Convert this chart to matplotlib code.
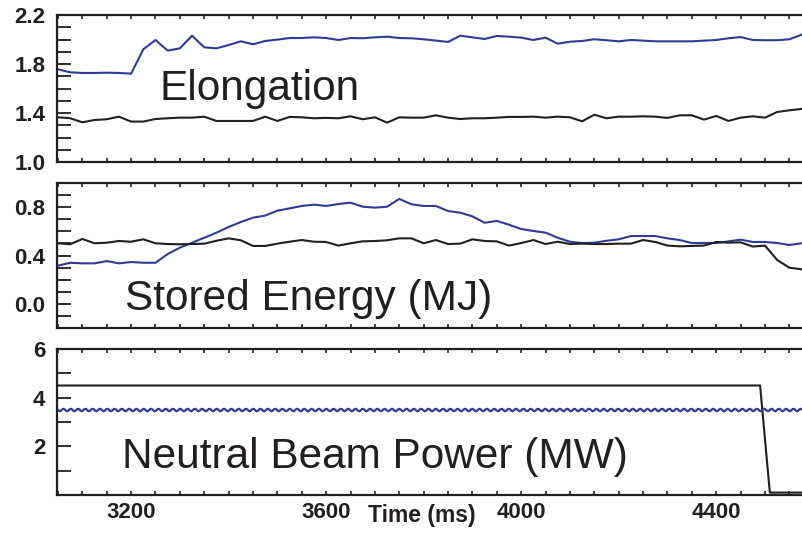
import numpy as np
import matplotlib.pyplot as plt
from matplotlib.ticker import MultipleLocator, FixedLocator

plt.rcParams['font.family'] = ['Liberation Sans', 'DejaVu Sans']

# time base (ms), samples every 25 ms
time = np.arange(3050, 4576, 25)

# elongation
elong_blue = [1.757, 1.732, 1.727, 1.727, 1.729, 1.727, 1.721, 1.920, 1.996, 1.909,
              1.928, 2.031, 1.936, 1.928, 1.955, 1.985, 1.961, 1.988, 1.999, 2.012,
              2.012, 2.018, 2.012, 1.996, 2.012, 2.010, 2.018, 2.023, 2.012,
              2.010, 2.002, 1.991, 1.980, 2.031, 2.018, 2.004, 2.029, 2.023, 2.015,
              1.996, 2.015, 1.966, 1.982, 1.988, 2.002, 1.994, 1.985, 1.996, 1.991,
              1.985, 1.985, 1.985, 1.985, 1.991, 1.996, 2.010, 2.020, 1.996, 1.994,
              1.994, 2.002, 2.039]
elong_black = [1.365, 1.357, 1.324, 1.343, 1.349, 1.370, 1.330, 1.330, 1.351, 1.357,
               1.362, 1.362, 1.370, 1.335, 1.335, 1.335, 1.335, 1.370, 1.335, 1.368,
               1.365, 1.357, 1.360, 1.357, 1.373, 1.349, 1.365, 1.321, 1.365,
               1.362, 1.362, 1.381, 1.362, 1.351, 1.357, 1.357, 1.362, 1.368, 1.368,
               1.370, 1.362, 1.370, 1.365, 1.332, 1.386, 1.357, 1.370, 1.370, 1.373,
               1.370, 1.360, 1.381, 1.381, 1.346, 1.376, 1.335, 1.362, 1.373, 1.362,
               1.408, 1.422, 1.433]

# stored energy (MJ)
wmhd_blue = [0.316, 0.340, 0.335, 0.335, 0.354, 0.335, 0.346, 0.340, 0.340, 0.412,
             0.465, 0.506, 0.547, 0.589, 0.636, 0.677, 0.713, 0.730, 0.771, 0.790,
             0.810, 0.821, 0.810, 0.826, 0.837, 0.804, 0.796, 0.804, 0.868,
             0.824, 0.810, 0.810, 0.768, 0.754, 0.724, 0.671, 0.686, 0.655, 0.619,
             0.603, 0.589, 0.547, 0.514, 0.503, 0.506, 0.522, 0.534, 0.561, 0.561,
             0.561, 0.542, 0.528, 0.503, 0.503, 0.503, 0.517, 0.531, 0.512, 0.512,
             0.503, 0.487, 0.501]
wmhd_black = [0.501, 0.493, 0.537, 0.501, 0.506, 0.520, 0.514, 0.534, 0.501, 0.495,
              0.493, 0.495, 0.498, 0.522, 0.542, 0.526, 0.479, 0.479, 0.498, 0.514,
              0.528, 0.514, 0.512, 0.482, 0.501, 0.517, 0.520, 0.526, 0.542,
              0.542, 0.501, 0.528, 0.495, 0.498, 0.534, 0.520, 0.517, 0.482, 0.503,
              0.528, 0.495, 0.514, 0.495, 0.498, 0.495, 0.495, 0.498, 0.498, 0.528,
              0.512, 0.482, 0.476, 0.479, 0.482, 0.512, 0.506, 0.509, 0.474, 0.482,
              0.363, 0.299, 0.286]

# neutral beam power (MW)
nb_black_t = [3050, 4490, 4510, 4580]
nb_black = [4.5, 4.5, 0.1, 0.1]
nb_blue_t = [3050, 4580]
nb_blue = [3.5, 3.5]

blue = '#2e3b98'
black = '#231f20'
xmin, xmax = 3048, 4578

fig = plt.figure(figsize=(8.03, 5.35), dpi=100)
ax1 = fig.add_axes([57/803, 1-162/535, 746/803, 147/535])
ax2 = fig.add_axes([57/803, 1-328/535, 746/803, 145/535])
ax3 = fig.add_axes([57/803, 1-495/535, 746/803, 146/535])

ax1.plot(time, elong_blue, color=blue, lw=1.5)
ax1.plot(time, elong_black, color=black, lw=1.5)
ax1.set_ylim(1.0, 2.2)
ax1.yaxis.set_major_locator(FixedLocator([1.0, 1.4, 1.8, 2.2]))
ax1.yaxis.set_minor_locator(MultipleLocator(0.1))
ax1.text(0.137, 0.422, 'Elongation', transform=ax1.transAxes, fontsize=30.5,
         va='baseline', color=black)

ax2.plot(time, wmhd_blue, color=blue, lw=1.5)
ax2.plot(time, wmhd_black, color=black, lw=1.5)
ax2.set_ylim(-0.2, 1.0)
ax2.yaxis.set_major_locator(FixedLocator([0.0, 0.4, 0.8]))
ax2.yaxis.set_minor_locator(MultipleLocator(0.1))
ax2.yaxis.set_major_formatter(lambda v, p: '%.1f' % v)
ax2.text(0.091, 0.124, 'Stored Energy (MJ)', transform=ax2.transAxes, fontsize=30.5,
         va='baseline', color=black)

ax3.plot(nb_black_t, nb_black, color=black, lw=1.5)
ln, = ax3.plot(nb_blue_t, nb_blue, color=blue, lw=1.6)
ln.set_sketch_params(scale=1.2, length=7.3, randomness=1)
ax3.set_ylim(0, 6)
ax3.yaxis.set_major_locator(FixedLocator([2, 4, 6]))
ax3.yaxis.set_minor_locator(MultipleLocator(1))
ax3.text(0.087, 0.185, 'Neutral Beam Power (MW)', transform=ax3.transAxes, fontsize=30.5,
         va='baseline', color=black)

for ax in (ax1, ax2, ax3):
    ax.set_xlim(xmin, xmax)
    ax.xaxis.set_major_locator(FixedLocator([3200, 3600, 4000, 4400]))
    ax.xaxis.set_minor_locator(MultipleLocator(50))
    ax.spines['right'].set_visible(False)
    for s in ('left', 'top', 'bottom'):
        ax.spines[s].set_linewidth(1.6)
        ax.spines[s].set_color(black)
    ax.tick_params(axis='y', which='both', direction='in', length=10, width=1.3,
                   right=False, pad=8.5, labelsize=16, colors=black)
    ax.tick_params(axis='x', which='both', direction='in', length=3, width=1.2,
                   top=True, pad=5, labelsize=16, colors=black)
    for lab in ax.get_xticklabels() + ax.get_yticklabels():
        lab.set_fontweight('bold')
    if ax is not ax3:
        ax.tick_params(axis='x', labelbottom=False)

fig.text(368/803, 1-522/535, 'Time (ms)', fontsize=16.5, fontweight='bold',
         va='baseline', ha='left', color=black)

plt.savefig('out.png', dpi=100)
